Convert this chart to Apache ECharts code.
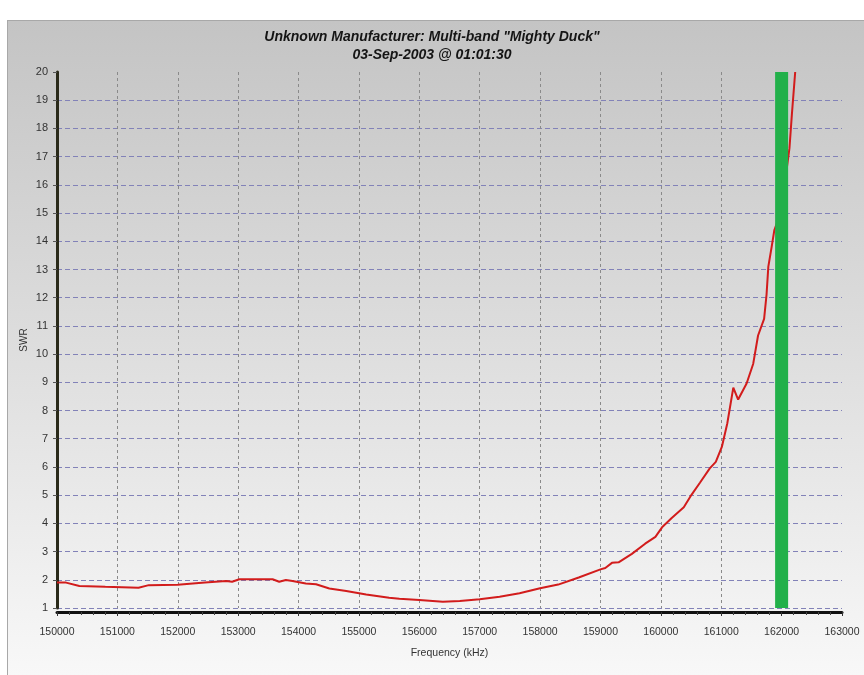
<!DOCTYPE html>
<html>
<head>
<meta charset="utf-8">
<script src="https://cdn.jsdelivr.net/npm/echarts@6/dist/echarts.min.js"></script>
<style>
html,body{margin:0;padding:0;background:#fff;width:864px;height:675px;overflow:hidden;}
#panel{position:absolute;left:7px;top:20px;width:857px;height:655px;border-left:1px solid #a8a8a8;border-top:1px solid #a8a8a8;
background:linear-gradient(to bottom,#c4c4c4 0%,#d6d6d6 35%,#e8e8e8 70%,#f8f8f8 100%);}
#chart{position:absolute;left:0;top:0;width:864px;height:675px;}
</style>
</head>
<body>
<div id="panel"></div>
<div id="chart"></div>
<script>
var titleLines = ['Unknown Manufacturer: Multi-band "Mighty Duck"', '03-Sep-2003 @ 01:01:30'];
var xAxisName = 'Frequency (kHz)';
var yAxisName = 'SWR';

var freq = [150000,150150,150370,150800,151350,151520,152000,152450,152800,152900,153020,153570,153680,153790,153900,154120,154290,154510,154790,155120,155500,155670,156000,156390,156670,157000,157330,157660,158000,158300,158640,159000,159080,159190,159300,159520,159740,159910,160020,160180,160380,160510,160650,160810,160910,161010,161100,161200,161280,161420,161530,161610,161710,161750,161780,161835,161880,161950,162050,162130,162170,162225];
var swr  = [1.90,1.90,1.78,1.75,1.72,1.81,1.82,1.90,1.96,1.93,2.02,2.02,1.93,1.99,1.96,1.87,1.84,1.69,1.60,1.48,1.36,1.33,1.28,1.22,1.25,1.31,1.40,1.52,1.70,1.83,2.08,2.37,2.42,2.60,2.62,2.92,3.28,3.52,3.86,4.19,4.57,5.02,5.45,5.95,6.18,6.71,7.54,8.81,8.39,8.96,9.66,10.66,11.25,12.1,13.1,13.8,14.4,14.8,16.0,17.3,18.5,20.0];

var markerFreq = [162000, 162000];
var markerSwr = [1, 20];

var xMin = 150000, xMax = 163000, xStep = 1000;
var yMin = 1, yMax = 20, yStep = 1;

function pairs(a, b){ var r=[]; for (var i=0;i<a.length;i++) r.push([a[i], b[i]]); return r; }

var chart = echarts.init(document.getElementById('chart'));
chart.setOption({
  backgroundColor: 'transparent',
  animation: false,
  title: {
    text: titleLines.join('\n'),
    left: 'center',
    top: 23,
    textStyle: {
      fontFamily: '"Liberation Sans",Arial,sans-serif',
      fontStyle: 'italic', fontWeight: 'bold', fontSize: 14, lineHeight: 18, color: '#151515'
    }
  },
  grid: { left: 57, right: 22, top: 72, bottom: 67, containLabel: false },
  xAxis: {
    type: 'value', min: xMin, max: xMax, interval: xStep,
    offset: 4,
    name: xAxisName, nameLocation: 'middle', nameGap: 36, nameMoveOverlap: false,
    nameTextStyle: { fontFamily: '"Liberation Sans",Arial,sans-serif', fontSize: 10.5, color: '#333' },
    axisLine: { show: true, onZero: false, lineStyle: { color: '#111', width: 3 } },
    axisTick: { show: true, length: 4, lineStyle: { color: '#333' } },
    minorTick: { show: true, splitNumber: 5, length: 3, lineStyle: { color: '#444' } },
    axisLabel: { fontFamily: '"Liberation Sans",Arial,sans-serif', fontSize: 10.5, color: '#333', margin: 15,
      formatter: function (v) { return String(v); } },
    splitLine: { show: true, showMinLine: false, showMaxLine: false, lineStyle: { color: '#8a8a8a', type: [3,3], width: 1 } }
  },
  yAxis: {
    type: 'value', min: yMin, max: yMax, interval: yStep,
    name: yAxisName, nameLocation: 'middle', nameGap: 28, nameRotate: 90, nameMoveOverlap: false,
    nameTextStyle: { fontFamily: '"Liberation Sans",Arial,sans-serif', fontSize: 10, color: '#333' },
    axisLine: { show: true, lineStyle: { color: '#2a2a1a', width: 3 } },
    axisTick: { show: true, length: 4, lineStyle: { color: '#555' } },
    axisLabel: { fontFamily: '"Liberation Sans",Arial,sans-serif', fontSize: 11, color: '#333', margin: 9,
      formatter: function (v) { return String(v); } },
    splitLine: { show: true, showMinLine: true, showMaxLine: false, lineStyle: { color: '#8282b8', type: [5,3], width: 1 } }
  },
  series: [
    {
      type: 'line', data: pairs(freq, swr), showSymbol: false, symbol: 'none',
      lineStyle: { color: '#d21c1c', width: 2 }, clip: true, z: 3
    },
    {
      type: 'line', data: pairs(markerFreq, markerSwr), showSymbol: false, symbol: 'none',
      lineStyle: { color: '#22b04a', width: 13, cap: 'butt' }, z: 5
    }
  ]
});
</script>
</body>
</html>
